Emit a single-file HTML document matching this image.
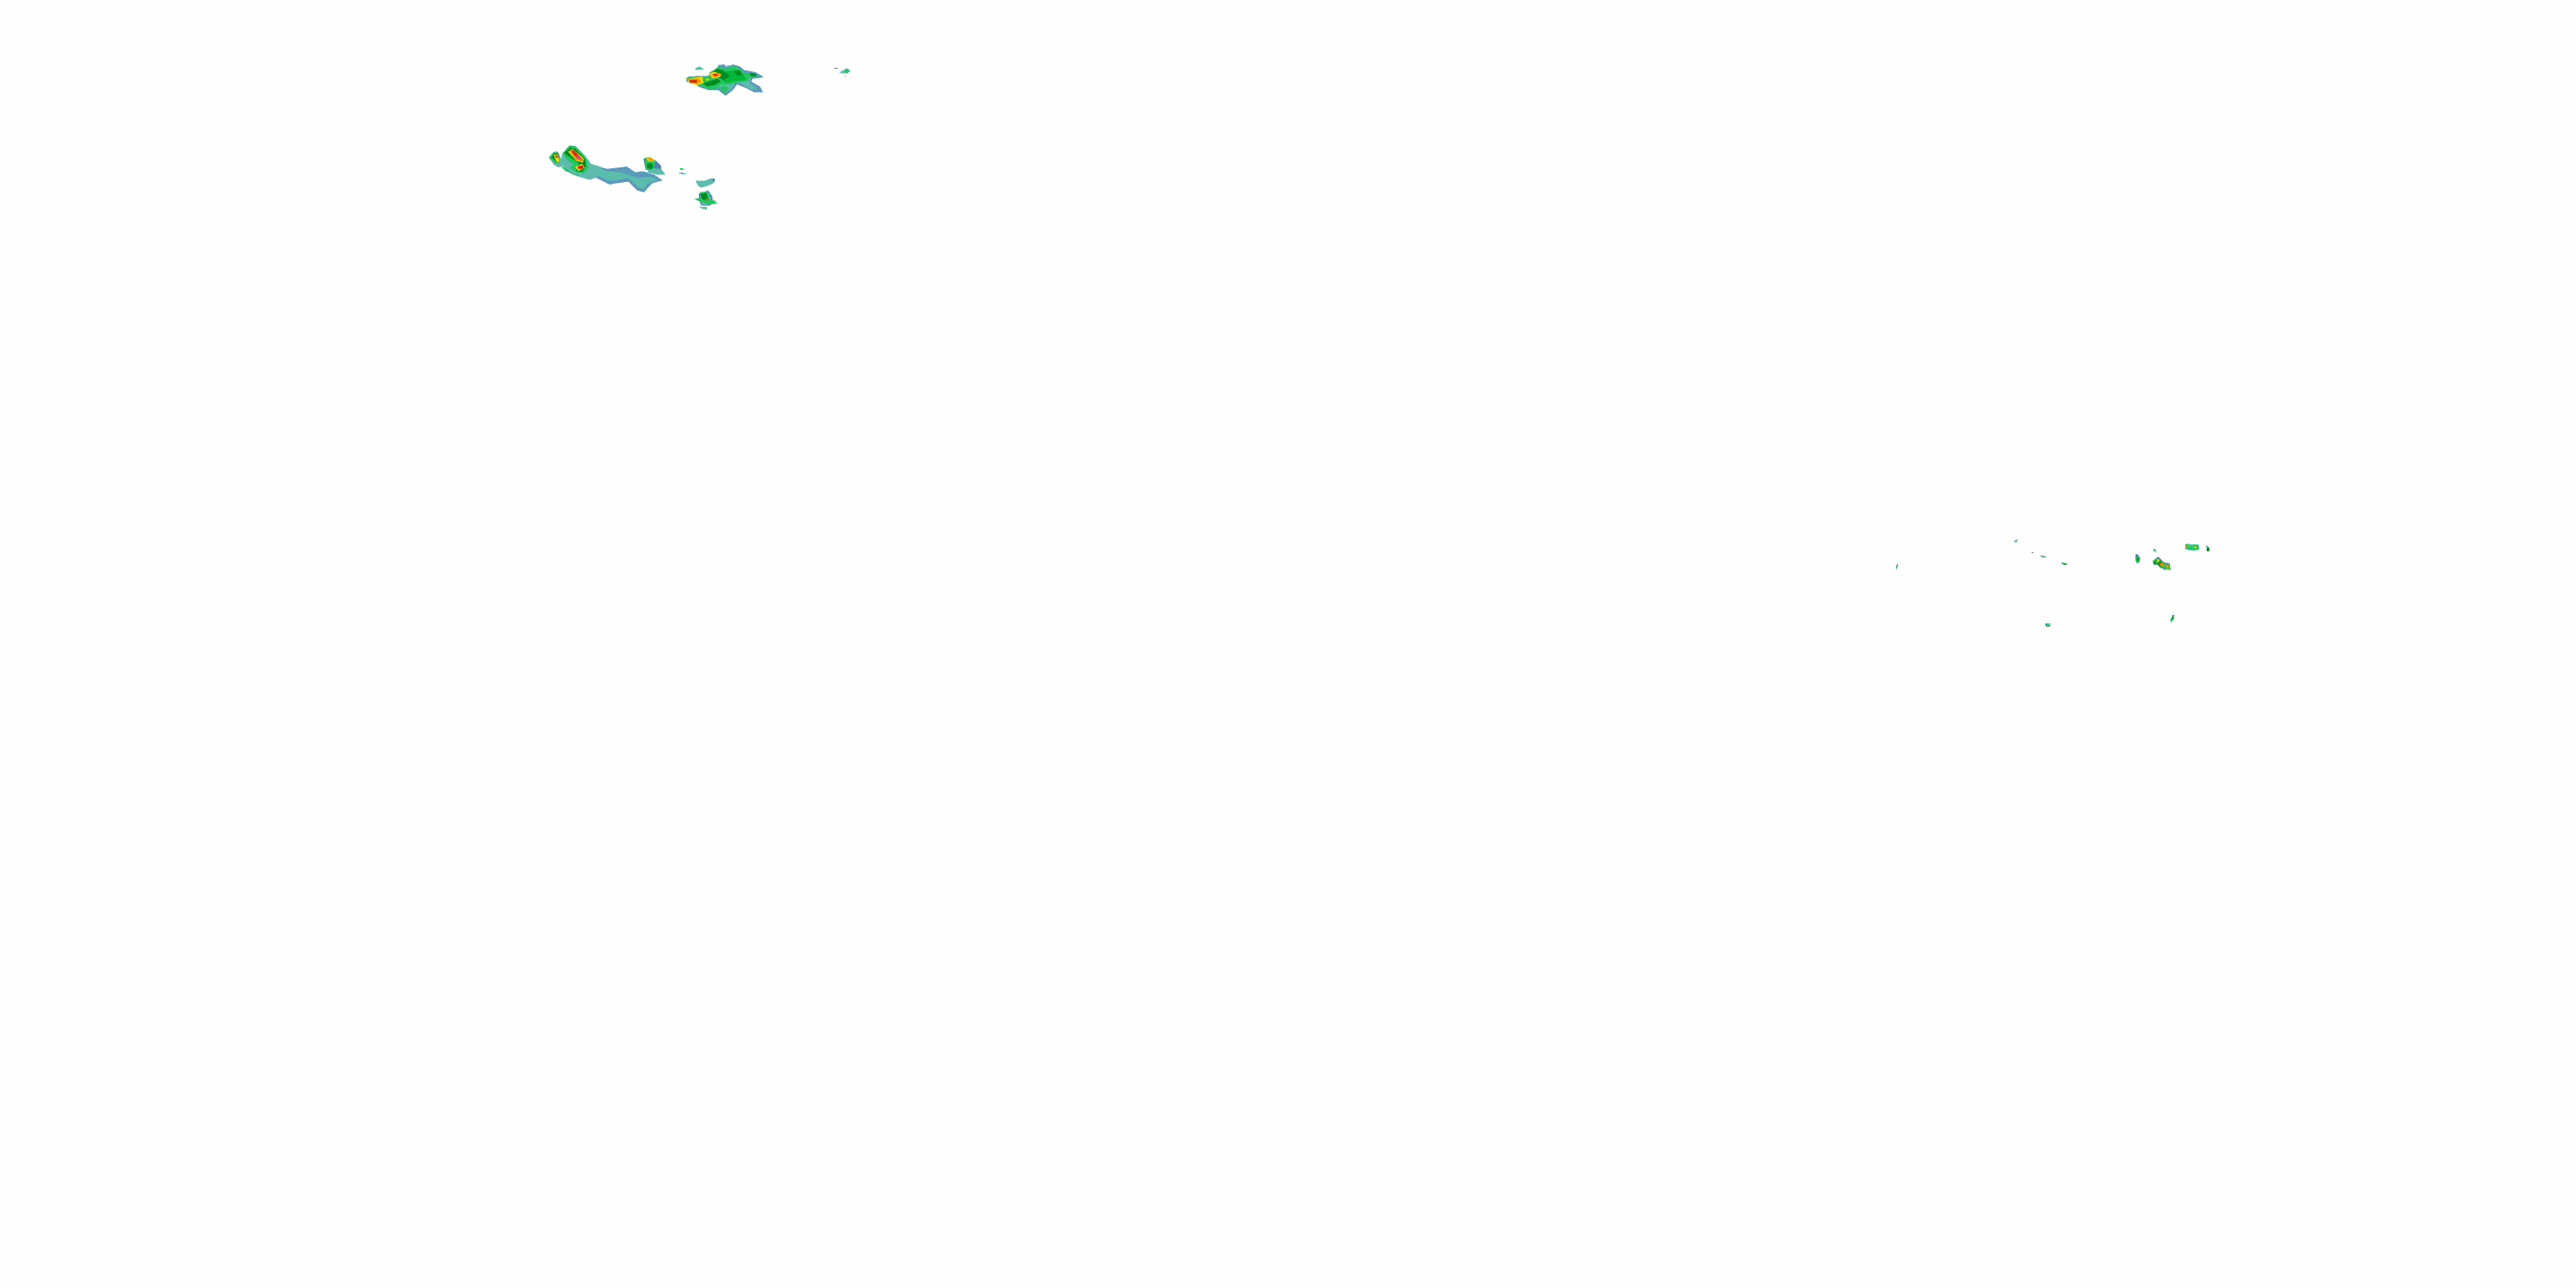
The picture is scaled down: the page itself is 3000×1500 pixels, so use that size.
<!DOCTYPE html>
<html><head><meta charset="utf-8"><style>html,body{margin:0;padding:0;background:#fff}svg{display:block}</style></head><body>
<svg xmlns="http://www.w3.org/2000/svg" width="3000" height="1500" viewBox="0 0 3000 1500" shape-rendering="crispEdges">
<defs>
<pattern id="m" width="8" height="8" patternUnits="userSpaceOnUse"><rect width="8" height="8" fill="#5b9dbb"/><rect width="2" height="2" fill="#4f80b5"/><rect x="4" y="2" width="2" height="2" fill="#62b8b4"/><rect x="2" y="6" width="2" height="2" fill="#62b8b4"/><rect x="6" y="4" width="2" height="2" fill="#4f80b5"/></pattern>
<pattern id="t" width="8" height="8" patternUnits="userSpaceOnUse"><rect width="8" height="8" fill="#5cbcae"/><rect x="2" y="2" width="2" height="2" fill="#5b9dbb"/><rect x="6" y="6" width="2" height="2" fill="#5b9dbb"/><rect x="4" width="2" height="2" fill="#55c89a"/></pattern>
</defs>
<rect width="3000" height="1500" fill="#fefefe"/>
<!-- tail -->
<g transform="translate(690,180) scale(.33333)">
<polygon fill="url(#m)" points="0,35 50,50 120,42 150,62 175,58 215,70 245,90 210,100 195,115 180,132 155,125 125,95 85,100 60,105 30,90 0,75"/>
<polygon fill="url(#t)" points="0,42 50,58 100,62 160,82 200,78 230,88 195,100 178,122 160,115 125,82 85,90 55,92 30,78 0,65"/>
<polygon fill="#4f80b5" points="178,15 200,8 225,25 240,40 240,55 210,60 185,52"/>
<polygon fill="url(#t)" points="205,48 240,50 255,70 225,70 190,62"/>
<polygon fill="#1fc85a" points="182,12 200,8 222,22 212,52 186,50"/>
<polygon fill="#008c20" points="190,32 205,28 212,42 205,52 190,46"/>
<polygon fill="#f5d800" points="190,12 202,8 218,22 205,26 192,22"/>
<polygon fill="#f09000" points="194,12 204,12 214,22 200,22"/>
</g>
<!-- hand -->
<g transform="translate(635,160) scale(.33333)">
<polygon fill="url(#t)" points="12,70 30,50 45,50 55,75 60,55 85,28 105,30 140,65 160,92 200,105 180,140 155,148 110,135 85,125 60,100 45,105 30,95"/>
<polygon fill="#1fc85a" points="14,72 28,52 45,55 52,85 45,92 35,90"/>
<polygon fill="#1fc85a" points="62,55 85,28 105,32 142,72 152,105 135,125 108,122 85,105 100,98 75,78"/>
<polygon fill="#1fc85a" points="50,98 75,110 100,130 120,135 100,125 70,118"/>
<polygon fill="#008c20" points="22,70 32,55 46,58 50,84 40,88"/>
<polygon fill="#008c20" points="65,55 88,35 105,40 140,78 142,100 130,120 108,118 118,90 90,72"/>
<polygon fill="#f5d800" points="80,50 95,40 135,75 132,88 108,82"/>
<polygon fill="#f5d800" points="30,60 44,60 50,84 42,88 34,75"/>
<polygon fill="#f5d800" points="105,102 128,92 138,106 115,118"/>
<polygon fill="#f09000" points="86,47 98,42 132,78 130,85 105,78"/>
<polygon fill="#f09000" points="33,62 44,62 45,72 36,72"/>
<polygon fill="#f09000" points="110,100 132,95 135,106 118,114"/>
<polygon fill="#d81c20" points="90,47 100,47 128,76 112,74"/>
<polygon fill="#c84a70" points="108,62 120,66 130,80 112,74"/>
<rect x="115" y="100" width="17" height="9" fill="#e01010"/>
<rect x="36" y="64" width="6" height="6" fill="#d81c20"/>
</g>
<!-- small east of tail -->
<g transform="translate(750,170) scale(.33333)">
<rect x="126" y="78" width="9" height="4" fill="#00c040"/><rect x="132" y="81" width="6" height="3" fill="#1fc85a"/>
<rect x="123" y="93" width="14" height="3" fill="#1fc85a"/><rect x="130" y="96" width="17" height="3" fill="#5cbcae"/>
<polygon fill="url(#t)" points="180,122 210,122 238,112 248,122 240,132 220,140 198,146 188,138"/>
<rect x="240" y="114" width="8" height="10" fill="#4f80b5"/>
<polygon fill="#4f80b5" points="192,165 225,156 238,175 240,190 252,190 230,208 200,208 192,190"/>
<polygon fill="url(#t)" points="195,170 225,160 235,185 225,205 200,205"/>
<polygon fill="#1fc85a" points="175,185 195,182 198,160 222,160 228,185 258,200 230,205 205,198"/>
<polygon fill="#008c20" points="198,168 218,164 224,182 210,190 200,182"/>
<rect x="215" y="184" width="8" height="6" fill="#7a8a10"/>
<polygon fill="url(#t)" points="192,212 222,214 218,222 204,220"/>
</g>
<!-- top blob -->
<g transform="translate(795,70) scale(.33333)">
<polygon fill="url(#t)" points="45,28 60,22 75,32 45,35"/>
<rect x="155" y="18" width="8" height="10" fill="#5cbcae"/>
<polygon fill="url(#m)" points="12,65 20,58 60,55 90,55 95,42 120,35 125,17 145,15 155,25 175,15 200,22 215,35 255,42 285,60 245,65 240,75 270,92 280,112 250,112 215,95 190,85 175,105 150,125 125,105 90,105 60,95 45,85 12,75"/>
<polygon fill="url(#t)" points="60,85 95,65 150,60 240,58 232,78 262,100 240,104 210,85 188,76 170,100 150,115 128,96 90,98"/>
<polygon fill="#1fc85a" points="15,62 60,58 90,58 100,42 125,22 150,32 175,20 200,30 215,45 250,50 275,60 235,60 230,72 195,78 165,85 135,85 115,100 85,100 60,88 40,82 15,72"/>
<polygon fill="#1fc85a" points="128,95 148,88 160,98 150,118"/>
<polygon fill="#00b838" points="150,40 190,35 215,55 225,70 190,72 150,80 135,65"/>
<polygon fill="#008c20" points="125,30 145,38 165,55 145,70 125,62 100,40"/>
<polygon fill="#008c20" points="70,82 100,72 120,65 135,75 110,88 85,92"/>
<polygon fill="#008c20" points="180,38 200,36 210,52 190,55"/>
<polygon fill="#008c20" points="235,44 255,48 258,58 235,55"/>
<polygon fill="#f5d800" points="14,68 50,60 70,58 72,80 50,88 25,80"/>
<polygon fill="#f5d800" points="92,48 110,40 135,50 130,60 105,64"/>
<polygon fill="#f5d800" points="80,64 95,68 85,72"/>
<polygon fill="#f09000" points="18,68 55,64 66,76 50,82 28,78"/>
<polygon fill="#f09000" points="100,48 125,46 130,56 108,60"/>
<rect x="24" y="69" width="26" height="10" fill="#e02818"/>
<rect x="108" y="48" width="14" height="8" fill="#e02818"/>
</g>
<!-- top right small -->
<g transform="translate(780,60) scale(.33333)">
<rect x="575" y="57" width="12" height="3" fill="#4f80b5"/>
<polygon fill="url(#t)" points="592,73 612,62 620,58 632,68 622,76 600,76"/>
<rect x="612" y="63" width="12" height="10" fill="#1fc85a"/>
<rect x="612" y="84" width="3" height="3" fill="#4f80b5"/>
</g>
<!-- east cluster -->
<g transform="translate(2480,620) scale(.33333)">
<polygon fill="#4f80b5" points="21,76 28,76 38,90 34,105 25,108 21,96"/>
<rect x="24" y="85" width="12" height="20" fill="#1fc85a"/><rect x="27" y="90" width="6" height="9" fill="#008c20"/>
<rect x="84" y="57" width="6" height="9" fill="#5cbcae"/><rect x="87" y="62" width="6" height="6" fill="#1fc85a"/>
<polygon fill="#4f80b5" points="81,100 100,85 120,105 140,108 144,130 120,130 100,115 85,112"/>
<polygon fill="#1fc85a" points="81,100 96,90 110,100 125,110 140,112 144,132 126,128 108,124 98,110 84,112"/>
<polygon fill="#008c20" points="84,102 92,100 92,112 84,112"/>
<polygon fill="#008c20" points="92,95 110,102 120,122 105,122"/>
<polygon fill="#f5d800" points="96,95 104,95 104,104 96,104"/>
<polygon fill="#f09000" points="105,108 118,108 120,120 110,120"/>
<polygon fill="#f09000" points="126,114 136,114 136,128 130,128"/>
<polygon fill="#5cbcae" points="195,40 222,42 240,42 245,58 225,64 205,62 195,58"/>
<rect x="195" y="40" width="14" height="18" fill="#1fc85a"/><rect x="222" y="44" width="20" height="18" fill="#1fc85a"/><rect x="210" y="48" width="10" height="12" fill="#1fc85a"/>
<rect x="198" y="45" width="6" height="8" fill="#f09000"/><rect x="226" y="48" width="6" height="8" fill="#f5d800"/>
<rect x="270" y="52" width="9" height="14" fill="#008c20"/><rect x="269" y="47" width="4" height="6" fill="#4f80b5"/>
<polygon fill="#1fc85a" points="142,306 150,292 156,290 155,302 146,315"/><rect x="150" y="288" width="6" height="6" fill="#4f80b5"/><rect x="148" y="296" width="6" height="8" fill="#008c20"/>
</g>
<g transform="translate(2190,620) scale(.33333)">
<rect x="57" y="111" width="3" height="6" fill="#008c20"/><rect x="54" y="117" width="6" height="6" fill="#1fc85a"/><rect x="54" y="123" width="3" height="6" fill="#5cbcae"/>
<rect x="468" y="27" width="9" height="6" fill="#5cbcae"/><rect x="468" y="33" width="3" height="3" fill="#5cbcae"/><rect x="474" y="27" width="3" height="6" fill="#4f80b5"/><rect x="477" y="24" width="3" height="3" fill="#4f80b5"/>
<rect x="528" y="69" width="6" height="3" fill="#4f80b5"/>
<rect x="558" y="81" width="12" height="3" fill="#1fc85a"/><rect x="564" y="84" width="6" height="3" fill="#1fc85a"/><rect x="570" y="84" width="9" height="3" fill="#4f80b5"/>
<rect x="633" y="105" width="6" height="6" fill="#1fc85a"/><rect x="639" y="108" width="12" height="6" fill="#1fc85a"/><rect x="642" y="108" width="3" height="6" fill="#008c20"/>
<rect x="576" y="318" width="18" height="9" fill="#5cbcae"/><rect x="576" y="318" width="6" height="6" fill="#4f80b5"/><rect x="579" y="324" width="12" height="6" fill="#1fc85a"/>
</g>
</svg>
</body></html>
